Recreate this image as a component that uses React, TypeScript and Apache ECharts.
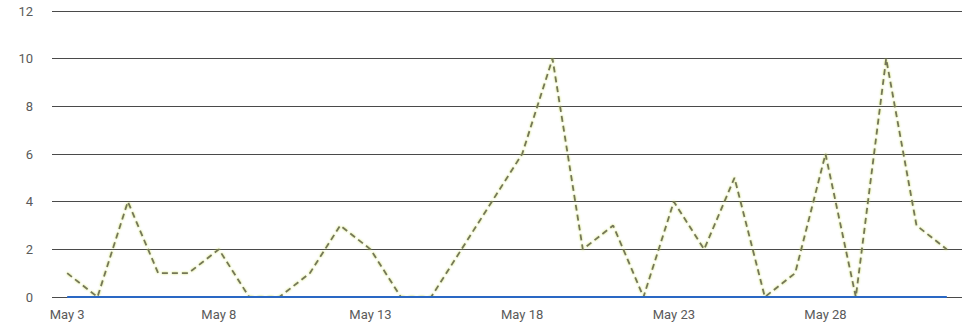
import React, { useEffect, useRef } from "react";
import * as echarts from "echarts";

// Daily dates, May 3 through June 1
const days: string[] = [
  "May 3", "May 4", "May 5", "May 6", "May 7", "May 8", "May 9", "May 10",
  "May 11", "May 12", "May 13", "May 14", "May 15", "May 16", "May 17", "May 18",
  "May 19", "May 20", "May 21", "May 22", "May 23", "May 24", "May 25", "May 26",
  "May 27", "May 28", "May 29", "May 30", "May 31", "Jun 1",
];

// Daily counts (dashed line)
const counts: number[] = [
  1, 0, 4, 1, 1, 2, 0, 0, 1, 3, 2, 0, 0, 2, 4, 6, 10, 2, 3, 0, 4, 2, 5, 0, 1, 6, 0, 10, 3, 2,
];

// Second series, flat at zero (solid blue line)
const baseline: number[] = [
  0, 0, 0, 0, 0, 0, 0, 0, 0, 0, 0, 0, 0, 0, 0, 0, 0, 0, 0, 0, 0, 0, 0, 0, 0, 0, 0, 0, 0, 0,
];

const yTicks = { min: 0, max: 12, interval: 2 };

const labelFont = "Roboto, 'Noto Sans', sans-serif";

export default function App() {
  const ref = useRef<HTMLDivElement>(null);

  useEffect(() => {
    if (!ref.current) return;
    const chart = echarts.init(ref.current, undefined, { renderer: "svg" });
    chart.setOption({
      animation: false,
      backgroundColor: "#ffffff",
      grid: { left: 52, right: 4, top: 11, bottom: 27 },
      xAxis: {
        type: "category",
        data: days,
        boundaryGap: true,
        axisLine: { show: false },
        axisTick: { show: false },
        axisLabel: {
          interval: 4,
          color: "#5a5a5a",
          fontSize: 13,
          fontFamily: labelFont,
          margin: 11,
        },
        splitLine: { show: false },
      },
      yAxis: {
        type: "value",
        min: yTicks.min,
        max: yTicks.max,
        interval: yTicks.interval,
        axisLine: { show: false },
        axisTick: { show: false },
        axisLabel: {
          color: "#5a5a5a",
          fontSize: 13,
          fontFamily: labelFont,
          margin: 19,
        },
        splitLine: { show: true, lineStyle: { color: "#4a4a4a", width: 1 } },
      },
      series: [
        {
          type: "line",
          data: counts,
          symbol: "none",
          z: 2,
          lineStyle: {
            color: "#74765a",
            width: 1.8,
            type: [6, 4],
            shadowColor: "rgba(195, 215, 60, 0.85)",
            shadowBlur: 2,
          },
        },
        {
          type: "line",
          data: baseline,
          symbol: "none",
          z: 3,
          lineStyle: { color: "#2a68c4", width: 2 },
        },
      ],
    });
    return () => chart.dispose();
  }, []);

  return (
    <div
      ref={ref}
      style={{ position: "fixed", left: 0, top: 0, width: 966, height: 324 }}
    />
  );
}
